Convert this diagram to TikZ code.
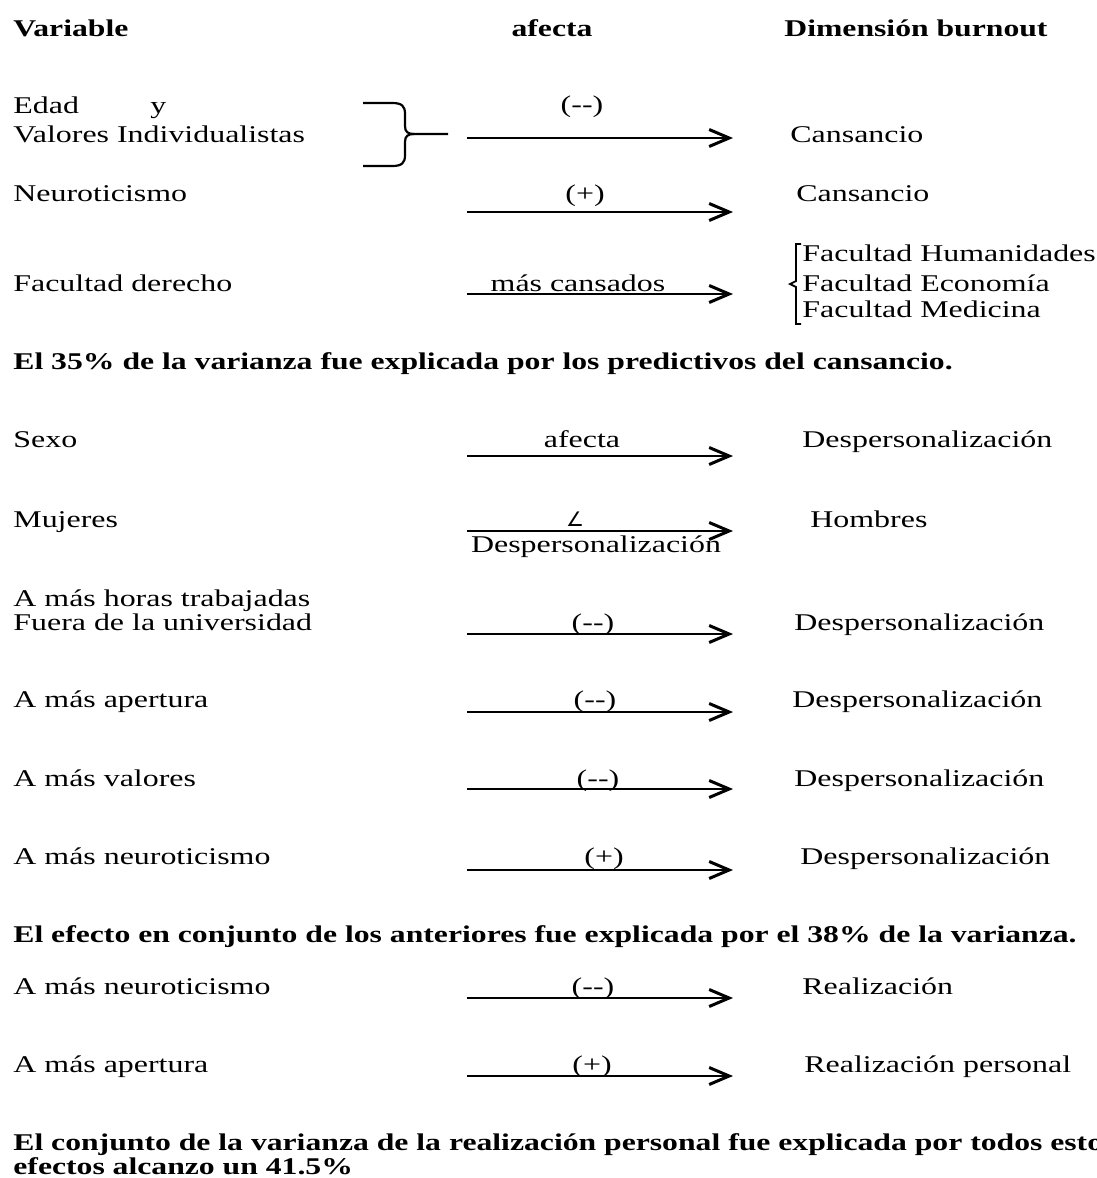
\documentclass[tikz,border=0pt]{standalone}
\usepackage{fontspec}
\setmainfont{Liberation Serif}[FakeStretch=1.33, BoldFeatures={FakeStretch=1.32}]
\newfontfamily\simbolo{DejaVu Sans}
\usepackage{tikz}
\usetikzlibrary{arrows.meta}

\begin{document}
\begin{tikzpicture}[x=0.5pt, y=-0.5pt,
  texto/.style={anchor=base west, inner sep=0pt, font=\fontsize{12}{14}\selectfont},
  rotulo/.style={texto, anchor=base},
  negrita/.style={texto, font=\fontsize{12}{14}\selectfont\bfseries},
  flecha/.style={line width=1.1pt, -{Straight Barb[length=10pt,width=8.5pt,line width=1.5pt]}},
  llave/.style={line width=1.1pt}
]
  \useasboundingbox (0,0) rectangle (1097,1178);
  % encabezados
  \node[negrita] (var) at (13,36) {Variable};
  \node[negrita, anchor=base] (afe) at (552,36) {afecta};
  \node[negrita] (dim) at (784,36) {Dimensión burnout};

  % cansancio
  \node[texto] (edad) at (13,113) {Edad};
  \node[texto] (y) at (150,113) {y};
  \node[texto] (valind) at (13,142) {Valores Individualistas};
  \draw[llave] (363,103) -- (392,103) .. controls (402,103) and (405,106) .. (405,114)
    -- (405,126) .. controls (405,132) and (408,134) .. (414,134) -- (448,134);
  \draw[llave] (414,134) .. controls (408,134) and (405,136) .. (405,142)
    -- (405,155) .. controls (405,163) and (402,166) .. (392,166) -- (363,166);
  \coordinate (i1) at (467,138); \coordinate (f1) at (733,138);
  \draw[flecha] (i1) -- (f1);
  \node[rotulo] (r1) at (582,112) {(-{}-)};
  \node[texto] (d1) at (790,142) {Cansancio};

  \node[texto] (neuro1) at (13,201) {Neuroticismo};
  \coordinate (i2) at (467,212); \coordinate (f2) at (733,212);
  \draw[flecha] (i2) -- (f2);
  \node[rotulo] (r2) at (585,201) {(+)};
  \node[texto] (d2) at (796,201) {Cansancio};

  \node[texto] (derecho) at (13,291) {Facultad derecho};
  \coordinate (i3) at (467,294); \coordinate (f3) at (733,294);
  \draw[flecha] (i3) -- (f3);
  \node[rotulo] (r3) at (578,291) {más cansados};
  \draw[line width=0.9pt] (801,244) -- (796,244) -- (796,281) -- (790,284) -- (796,287)
    -- (796,324) -- (801,324);
  \node[texto] (hum) at (802,261) {Facultad Humanidades};
  \node[texto] (eco) at (802,291) {Facultad Economía};
  \node[texto] (med) at (802,317) {Facultad Medicina};

  \node[negrita] (res1) at (13,369) {El 35\% de la varianza fue explicada por los predictivos del cansancio.};

  % despersonalizacion
  \node[texto] (sexo) at (13,447) {Sexo};
  \coordinate (i4) at (467,456); \coordinate (f4) at (733,456);
  \draw[flecha] (i4) -- (f4);
  \node[rotulo] (r4) at (582,447) {afecta};
  \node[texto] (d4) at (802,447) {Despersonalización};

  \node[texto] (mujeres) at (13,527) {Mujeres};
  \coordinate (i5) at (467,531); \coordinate (f5) at (733,531);
  \draw[flecha] (i5) -- (f5);
  \node[rotulo, font=\fontsize{10}{12}\simbolo] (r5) at (575,526) {∠};
  \node[rotulo] (r5b) at (596,552) {Despersonalización};
  \node[texto] (d5) at (810,527) {Hombres};

  \node[texto] (horas) at (13,606) {A más horas trabajadas};
  \node[texto] (fuera) at (13,630) {Fuera de la universidad};
  \coordinate (i6) at (467,634); \coordinate (f6) at (733,634);
  \draw[flecha] (i6) -- (f6);
  \node[rotulo] (r6) at (593,630) {(-{}-)};
  \node[texto] (d6) at (794,630) {Despersonalización};

  \node[texto] (aper1) at (13,707) {A más apertura};
  \coordinate (i7) at (467,712); \coordinate (f7) at (733,712);
  \draw[flecha] (i7) -- (f7);
  \node[rotulo] (r7) at (595,707) {(-{}-)};
  \node[texto] (d7) at (792,707) {Despersonalización};

  \node[texto] (valor) at (13,786) {A más valores};
  \coordinate (i8) at (467,789); \coordinate (f8) at (733,789);
  \draw[flecha] (i8) -- (f8);
  \node[rotulo] (r8) at (598,786) {(-{}-)};
  \node[texto] (d8) at (794,786) {Despersonalización};

  \node[texto] (neuro2) at (13,864) {A más neuroticismo};
  \coordinate (i9) at (467,870); \coordinate (f9) at (733,870);
  \draw[flecha] (i9) -- (f9);
  \node[rotulo] (r9) at (604,864) {(+)};
  \node[texto] (d9) at (800,864) {Despersonalización};

  \node[negrita] (res2) at (13,942) {El efecto en conjunto de los anteriores fue explicada por el 38\% de la varianza.};

  % realizacion
  \node[texto] (neuro3) at (13,994) {A más neuroticismo};
  \coordinate (i10) at (467,998); \coordinate (f10) at (733,998);
  \draw[flecha] (i10) -- (f10);
  \node[rotulo] (r10) at (593,994) {(-{}-)};
  \node[texto] (d10) at (802,994) {Realización};

  \node[texto] (aper2) at (13,1072) {A más apertura};
  \coordinate (i11) at (467,1076); \coordinate (f11) at (733,1076);
  \draw[flecha] (i11) -- (f11);
  \node[rotulo] (r11) at (592,1072) {(+)};
  \node[texto] (d11) at (804,1072) {Realización personal};

  \node[negrita] (res3) at (13,1150) {El conjunto de la varianza de la realización personal fue explicada por todos estos};
  \node[negrita] (res3b) at (13,1174) {efectos alcanzo un 41.5\%};
\end{tikzpicture}
\end{document}
